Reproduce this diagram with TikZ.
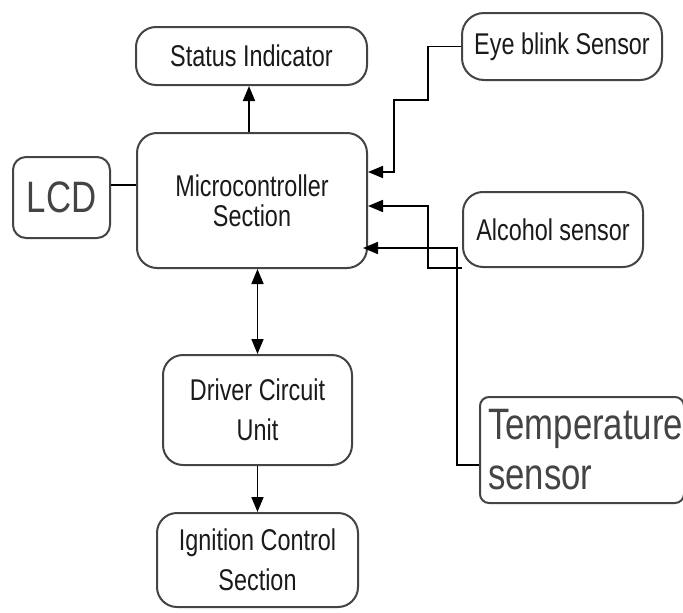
\documentclass[tikz,border=0pt]{standalone}
\usepackage{fontspec}
\usetikzlibrary{arrows.meta}
\newfontfamily\labelfont[FakeStretch=0.78]{Liberation Sans}
\newfontfamily\bigfont[FakeStretch=0.79]{Liberation Sans}
\definecolor{edge}{HTML}{444444}
\definecolor{ink}{HTML}{1A1A1A}
\tikzset{
  block/.style={draw=edge, line width=2pt, rounded corners=20pt, fill=white,
    inner sep=0pt, align=center, text=ink,
    font=\labelfont\fontsize{30}{30}\selectfont},
  wire/.style={draw=black, line width=1.7pt},
  tip/.style={Triangle[length=15pt,width=12pt]},
  arr/.style={wire, -{Triangle[length=15pt,width=12pt]}},
  arrboth/.style={wire, {Triangle[length=15pt,width=12pt]}-{Triangle[length=15pt,width=12pt]}}
}
\begin{document}
\begin{tikzpicture}[x=1pt, y=-1pt]
\path[use as bounding box, clip] (0,0) rectangle (683,613);
\fill[white] (0,0) rectangle (683,613);

% blocks
\node[block, minimum width=231pt, minimum height=58pt] (status) at (251.5,56) {Status Indicator};
\node[block, minimum width=230pt, minimum height=135pt] (micro) at (252,200.5) {Microcontroller\\Section};
\node[block, rounded corners=13pt, minimum width=97pt, minimum height=81pt,
      font=\bigfont\fontsize{44}{46}\selectfont, text=edge] (lcd) at (61.5,197.5) {LCD};
\node[block, rounded corners=22pt, minimum width=200pt, minimum height=67pt] (eye) at (562,46.5) {Eye blink Sensor};
\node[block, minimum width=180pt, minimum height=75pt] (alc) at (553,229.5) {Alcohol sensor};
\node[block, rounded corners=9pt, minimum width=204pt, minimum height=106pt,
      text width=188pt, inner xsep=8pt, align=left, text=edge,
      font=\bigfont\fontsize{44}{50}\selectfont] (temp) at (582,450) {Temperature\\sensor};
\node[block, minimum width=189pt, minimum height=110pt,
      font=\labelfont\fontsize{30}{40}\selectfont] (driver) at (257.5,410) {Driver Circuit\\Unit};
\node[block, minimum width=201pt, minimum height=94pt,
      font=\labelfont\fontsize{30}{40}\selectfont] (ign) at (257.5,560) {Ignition Control\\Section};

% connections
\draw[arr] (micro.north) ++(-3,0) coordinate (m1) -- (m1 |- status.south);
\draw[wire] (lcd.east) ++(0,-12.5) coordinate (l1) -- (l1 -| micro.west);
\draw[arr] (eye.west) -| (428,100) -| (394,172) -- (micro.east |- 0,172);
\draw[arr] (alc.south west) -| (428,206) -- (micro.east |- 0,206);
\draw[arr] (temp.west |- 0,465) -| (457,248) -- (363,248);
\draw[arrboth] (driver.north |- micro.south) -- (driver.north);
\draw[arr] (driver.south) -- (ign.north);
\end{tikzpicture}
\end{document}
